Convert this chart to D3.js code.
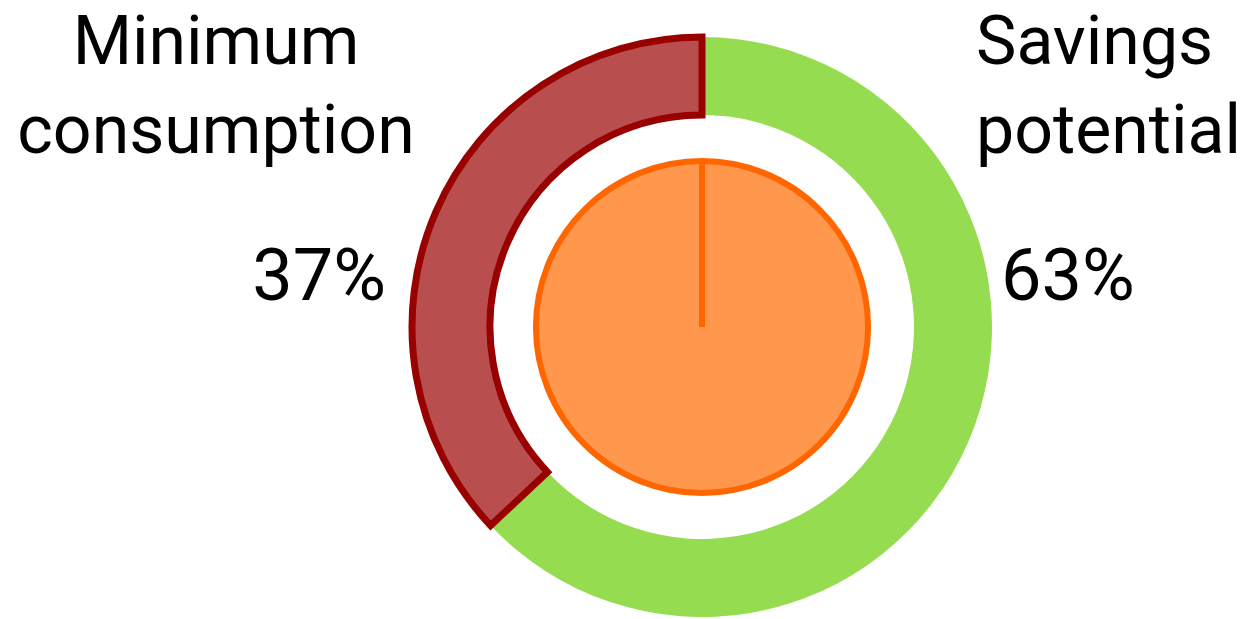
<!DOCTYPE html>
<html>
<head>
<meta charset="utf-8">
<script src="https://cdn.jsdelivr.net/npm/d3@7"></script>
<style>
  html, body { margin: 0; padding: 0; background: #fff; }
  svg { display: block; }
  text { font-family: Roboto, "Open Sans", sans-serif; fill: #000; }
</style>
</head>
<body>
<svg id="chart" width="1256" height="619"></svg>
<script>
const categories = ["Minimum consumption", "Savings potential"];
const values = [37, 63];
const percentLabels = ["37%", "63%"];
const innerValues = [100];

const fills = ["#B84E4E", "#96DC50"];
const strokes = ["#990000", "none"];

const svg = d3.select("#chart");
const cx = 702, cy = 327;
const g = svg.append("g").attr("transform", `translate(${cx},${cy})`);

const pie = d3.pie().sort(null).startAngle(0).endAngle(-2 * Math.PI);
const arcs = pie(values);
const ring = d3.arc().innerRadius(212).outerRadius(290);

// draw green first, red on top
const order = [1, 0];
order.forEach(i => {
  g.append("path")
    .attr("d", ring(arcs[i]))
    .attr("fill", fills[i])
    .attr("stroke", strokes[i])
    .attr("stroke-width", strokes[i] === "none" ? 0 : 7)
    .attr("stroke-linejoin", "miter");
});

// inner pie
const innerPie = d3.pie().sort(null);
const innerArcs = innerPie(innerValues);
const innerR = 166;
const innerArc = d3.arc().innerRadius(0).outerRadius(innerR);
g.append("path")
  .attr("d", innerArc(innerArcs[0]))
  .attr("fill", "#FF974C")
  .attr("stroke", "#FF6600")
  .attr("stroke-width", 6);
const p = d3.pointRadial(innerArcs[0].startAngle, innerR);
g.append("line")
  .attr("x1", 0).attr("y1", 0)
  .attr("x2", p[0]).attr("y2", p[1])
  .attr("stroke", "#FF6600")
  .attr("stroke-width", 6);

// labels
const fs = 68;
const pfs = 72;
const left = svg.append("text").attr("font-size", fs).attr("text-anchor", "middle");
left.append("tspan").attr("x", 216).attr("y", 64).text(categories[0].split(" ")[0]);
left.append("tspan").attr("x", 216).attr("y", 153).text(categories[0].split(" ")[1]);
svg.append("text").attr("font-size", pfs).attr("text-anchor", "end")
  .attr("x", 386).attr("y", 300).text(percentLabels[0]);

const right = svg.append("text").attr("font-size", fs).attr("text-anchor", "start");
right.append("tspan").attr("x", 976).attr("y", 64).text(categories[1].split(" ")[0]);
right.append("tspan").attr("x", 976).attr("y", 153).text(categories[1].split(" ")[1]);
svg.append("text").attr("font-size", pfs).attr("text-anchor", "start")
  .attr("x", 1001).attr("y", 300).text(percentLabels[1]);
</script>
</body>
</html>
